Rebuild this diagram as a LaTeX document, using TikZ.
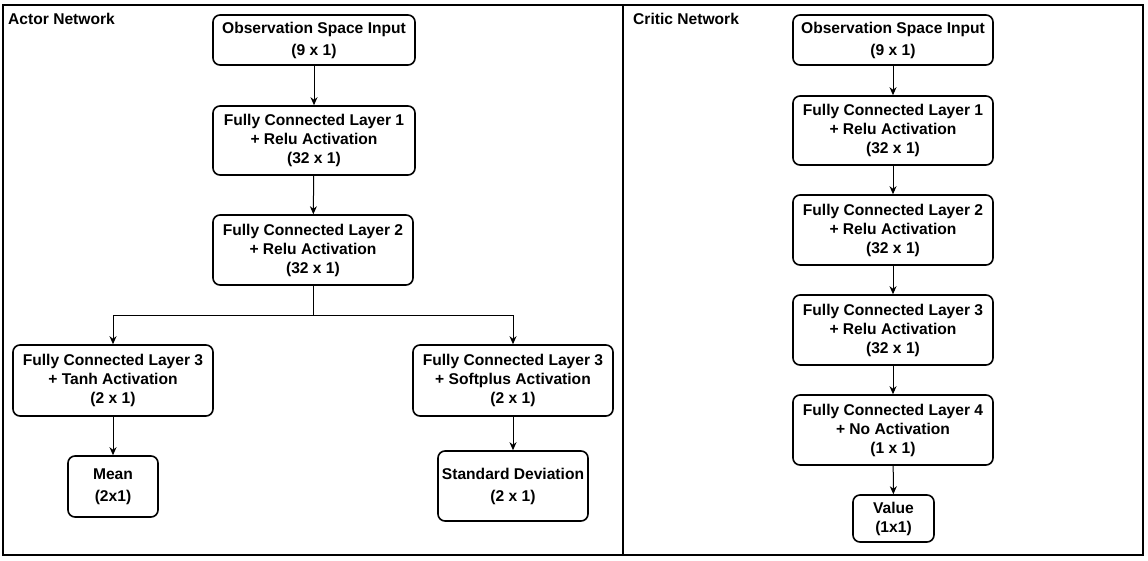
\documentclass[tikz,border=0pt]{standalone}
\usepackage{fontspec}
\setmainfont{Liberation Sans}
\usetikzlibrary{arrows.meta}
\begin{document}
\begin{tikzpicture}[x=1pt,y=-1pt,
  layerbox/.style={draw=black, line width=1.6pt, rounded corners=7pt, fill=white,
    align=center, inner sep=0pt, font=\fontsize{15.6}{19}\selectfont\bfseries},
  flow/.style={draw=black, line width=1pt, -{Stealth[length=8pt,width=7pt]}},
  frame/.style={draw=black, line width=1.4pt},
  paneltitle/.style={anchor=west, inner sep=0pt, font=\fontsize{15.6}{19}\selectfont\bfseries}]
\useasboundingbox (0,0) rectangle (1148,560);
\fill[white] (0,0) rectangle (1148,560);
% frames
\draw[frame] (3,5) rectangle (1143,555);
\draw[frame] (623,5) -- (623,555);
\node[paneltitle] (atitle) at (8,19) {Actor Network};
\node[paneltitle] (ctitle) at (633,19) {Critic Network};
% actor
\node[layerbox, minimum width=202pt, minimum height=50pt] (aobs) at (314,40) {Observation Space Input\\[3pt](9 x 1)};
\node[layerbox, minimum width=202pt, minimum height=69pt] (afc1) at (314,140.5) {Fully Connected Layer 1\\+ Relu Activation\\(32 x 1)};
\node[layerbox, minimum width=200pt, minimum height=70pt] (afc2) at (313,250) {Fully Connected Layer 2\\+ Relu Activation\\(32 x 1)};
\node[layerbox, minimum width=200pt, minimum height=71pt] (afc3a) at (113,380.5) {Fully Connected Layer 3\\+ Tanh Activation\\(2 x 1)};
\node[layerbox, minimum width=200pt, minimum height=71pt] (afc3b) at (513,380.5) {Fully Connected Layer 3\\+ Softplus Activation\\(2 x 1)};
\node[layerbox, minimum width=90pt, minimum height=61pt] (mean) at (113,486.5) {Mean\\[3pt](2x1)};
\node[layerbox, minimum width=150pt, minimum height=70pt] (std) at (513,486) {Standard Deviation\\[3pt](2 x 1)};
\coordinate (split) at (313,315);
\draw[flow] (aobs) -- (afc1);
\draw[flow] (afc1) -- (afc2);
\draw[flow] (afc2.south) -- (split) -| (afc3a.north);
\draw[flow] (split) -| (afc3b.north);
\draw[flow] (afc3a) -- (mean);
\draw[flow] (afc3b) -- (std);
% critic
\node[layerbox, minimum width=200pt, minimum height=50pt] (cobs) at (893,40) {Observation Space Input\\[3pt](9 x 1)};
\node[layerbox, minimum width=200pt, minimum height=69pt] (cfc1) at (893,130.5) {Fully Connected Layer 1\\+ Relu Activation\\(32 x 1)};
\node[layerbox, minimum width=200pt, minimum height=70pt] (cfc2) at (893,230) {Fully Connected Layer 2\\+ Relu Activation\\(32 x 1)};
\node[layerbox, minimum width=200pt, minimum height=70pt] (cfc3) at (893,330) {Fully Connected Layer 3\\+ Relu Activation\\(32 x 1)};
\node[layerbox, minimum width=200pt, minimum height=70pt] (cfc4) at (893,430) {Fully Connected Layer 4\\+ No Activation\\(1 x 1)};
\node[layerbox, minimum width=81pt, minimum height=47pt] (value) at (893.5,518.5) {Value\\(1x1)};
\draw[flow] (cobs) -- (cfc1);
\draw[flow] (cfc1) -- (cfc2);
\draw[flow] (cfc2) -- (cfc3);
\draw[flow] (cfc3) -- (cfc4);
\draw[flow] (cfc4) -- (value);
\end{tikzpicture}
\end{document}
